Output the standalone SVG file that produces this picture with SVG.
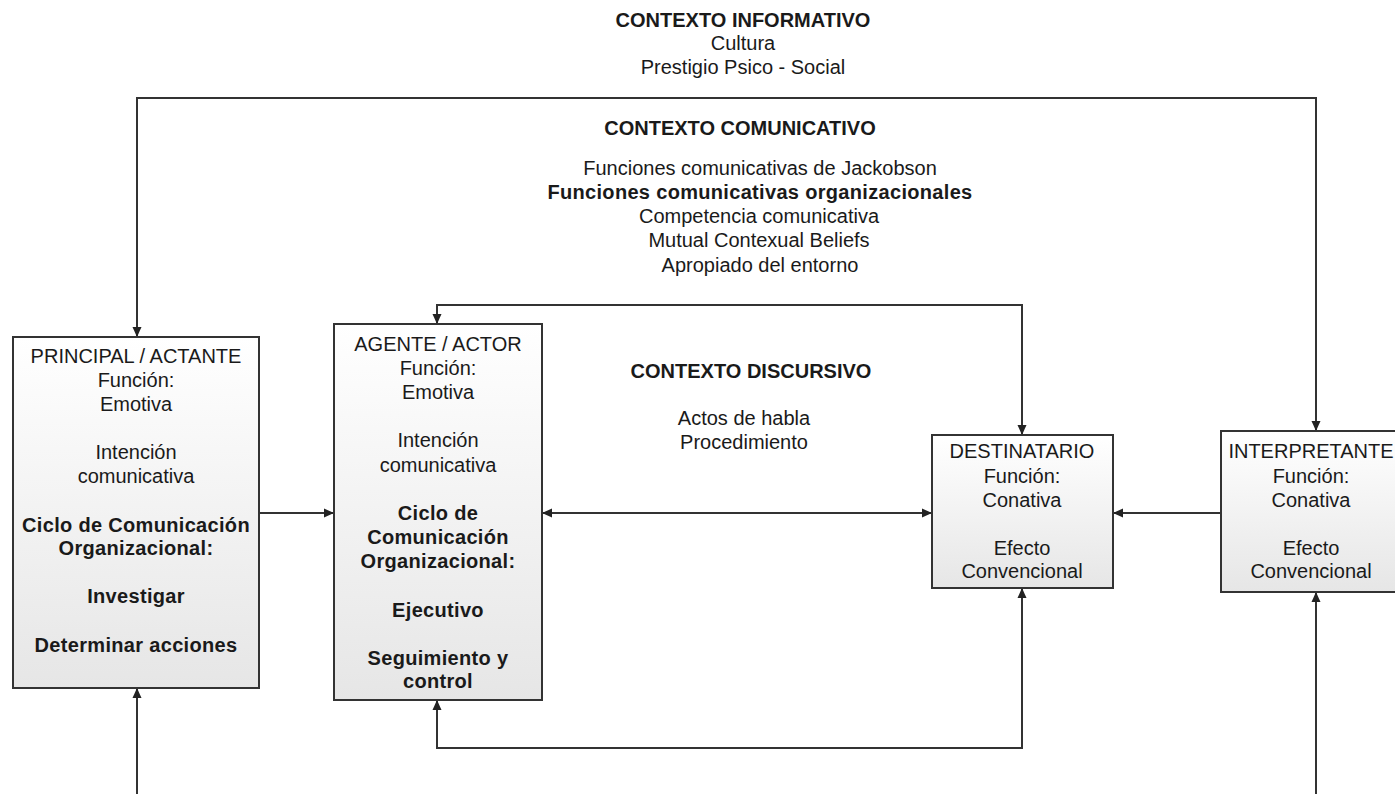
<svg xmlns="http://www.w3.org/2000/svg" width="1395" height="794" viewBox="0 0 1395 794">
<style>
  .t { font-family: "Liberation Sans", Arial, sans-serif; font-size: 20px; fill: #1a1a1a; text-anchor: middle; }
  .b { font-weight: bold; }
  .s { letter-spacing: 0.32px; }
  .box { stroke: #333; stroke-width: 2; fill: url(#g); }
  .c { fill: none; stroke: #333; stroke-width: 2; }
</style>
<defs>
  <linearGradient id="g" x1="0" y1="0" x2="0" y2="1">
    <stop offset="0" stop-color="#ffffff"/>
    <stop offset="1" stop-color="#e6e6e6"/>
  </linearGradient>
  <marker id="a" viewBox="0 0 10 10" refX="10" refY="5" markerWidth="10" markerHeight="10" markerUnits="userSpaceOnUse" orient="auto-start-reverse">
    <path d="M0,0.5 L10,5 L0,9.5 Z" fill="#222"/>
  </marker>
</defs>
<rect width="1395" height="794" fill="#fff"/>

<g id="contexto-informativo">
  <text class="t b" x="743" y="27">CONTEXTO INFORMATIVO</text>
  <text class="t" x="743" y="50">Cultura</text>
  <text class="t" x="743" y="74">Prestigio Psico - Social</text>
</g>
<g id="contexto-comunicativo">
  <text class="t b" x="740" y="135">CONTEXTO COMUNICATIVO</text>
  <text class="t" x="760" y="175">Funciones comunicativas de Jackobson</text>
  <text class="t b s" x="760" y="199">Funciones comunicativas organizacionales</text>
  <text class="t" x="759" y="223">Competencia comunicativa</text>
  <text class="t" x="759" y="247">Mutual Contexual Beliefs</text>
  <text class="t" x="760" y="272">Apropiado del entorno</text>
</g>
<g id="contexto-discursivo">
  <text class="t b" x="751" y="378">CONTEXTO DISCURSIVO</text>
  <text class="t" x="744" y="425">Actos de habla</text>
  <text class="t" x="744" y="449">Procedimiento</text>
</g>

<g id="connectors">
  <path class="c" d="M137,337 V98 H1316 V431" marker-start="url(#a)" marker-end="url(#a)"/>
  <path class="c" d="M437,324 V305 H1022 V435" marker-start="url(#a)" marker-end="url(#a)"/>
  <path class="c" d="M437,700 V748 H1022 V588" marker-start="url(#a)" marker-end="url(#a)"/>
  <path class="c" d="M137,794 V688" marker-end="url(#a)"/>
  <path class="c" d="M1316,794 V592" marker-end="url(#a)"/>
  <path class="c" d="M259,513 H334" marker-end="url(#a)"/>
  <path class="c" d="M542,513 H932" marker-start="url(#a)" marker-end="url(#a)"/>
  <path class="c" d="M1221,513 H1113" marker-end="url(#a)"/>
</g>

<g id="principal">
  <rect class="box" x="13" y="337" width="246" height="351"/>
  <text class="t" x="136" y="363">PRINCIPAL / ACTANTE</text>
  <text class="t" x="136" y="387">Función:</text>
  <text class="t" x="136" y="411">Emotiva</text>
  <text class="t" x="136" y="459">Intención</text>
  <text class="t" x="136" y="483">comunicativa</text>
  <text class="t b s" x="136" y="532">Ciclo de Comunicación</text>
  <text class="t b s" x="136" y="555">Organizacional:</text>
  <text class="t b s" x="136" y="603">Investigar</text>
  <text class="t b s" x="136" y="652">Determinar acciones</text>
</g>

<g id="agente">
  <rect class="box" x="334" y="324" width="208" height="376"/>
  <text class="t" x="438" y="351">AGENTE / ACTOR</text>
  <text class="t" x="438" y="375">Función:</text>
  <text class="t" x="438" y="399">Emotiva</text>
  <text class="t" x="438" y="447">Intención</text>
  <text class="t" x="438" y="472">comunicativa</text>
  <text class="t b s" x="438" y="520">Ciclo de</text>
  <text class="t b s" x="438" y="544">Comunicación</text>
  <text class="t b s" x="438" y="568">Organizacional:</text>
  <text class="t b s" x="438" y="617">Ejecutivo</text>
  <text class="t b s" x="438" y="665">Seguimiento y</text>
  <text class="t b s" x="438" y="688">control</text>
</g>

<g id="destinatario">
  <rect class="box" x="932" y="435" width="181" height="153"/>
  <text class="t" x="1022" y="458">DESTINATARIO</text>
  <text class="t" x="1022" y="483">Función:</text>
  <text class="t" x="1022" y="507">Conativa</text>
  <text class="t" x="1022" y="555">Efecto</text>
  <text class="t" x="1022" y="578">Convencional</text>
</g>

<g id="interpretante">
  <rect class="box" x="1221" y="431" width="190" height="161"/>
  <text class="t" x="1311" y="458">INTERPRETANTE</text>
  <text class="t" x="1311" y="483">Función:</text>
  <text class="t" x="1311" y="507">Conativa</text>
  <text class="t" x="1311" y="555">Efecto</text>
  <text class="t" x="1311" y="578">Convencional</text>
</g>
</svg>
